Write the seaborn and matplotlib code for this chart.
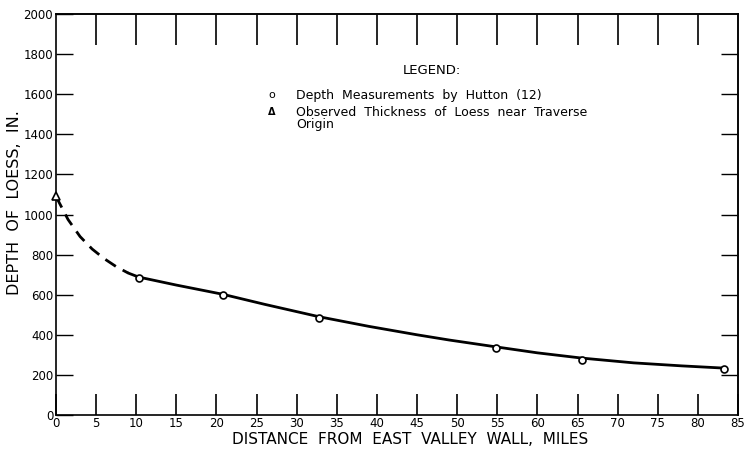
import matplotlib
matplotlib.use("Agg")
import matplotlib.pyplot as plt
import pandas as pd
import seaborn as sns

# ---- data ----
hutton_miles = [10.3, 20.8, 32.8, 54.8, 65.5, 83.2]
hutton_depth = [682, 600, 485, 335, 275, 228]

origin_miles = [0.0]
origin_depth = [1090]

# extrapolated (dashed) part of the curve
dash_miles = [0, 1.5, 3, 4.5, 6, 7.5, 9]
dash_depth = [1090, 975, 890, 828, 780, 740, 708]

# fitted (solid) part of the curve
solid_miles = [9, 10.3, 15, 20.8, 26, 32.8, 39, 45, 49, 54.8, 60, 65.5, 72, 78, 83.2]
solid_depth = [708, 688, 648, 602, 552, 490, 442, 400, 374, 340, 310, 284, 260, 245, 234]

x_ticks = list(range(0, 90, 5))
y_ticks = list(range(0, 2200, 200))

sns.set_style("white")
plt.rcParams["font.family"] = ["DejaVu Sans"]
plt.rcParams.update({"text.color": "black", "axes.labelcolor": "black",
                     "xtick.color": "black", "ytick.color": "black",
                     "xtick.bottom": True, "ytick.left": True})

fig = plt.figure(figsize=(7.46, 4.49), dpi=100)
ax = fig.add_axes([56 / 746, 1 - 415 / 449, 682 / 746, 401 / 449])

dash_df = pd.DataFrame({"x": dash_miles, "y": dash_depth})
solid_df = pd.DataFrame({"x": solid_miles, "y": solid_depth})
hut_df = pd.DataFrame({"x": hutton_miles, "y": hutton_depth})
org_df = pd.DataFrame({"x": origin_miles, "y": origin_depth})

sns.lineplot(data=dash_df, x="x", y="y", ax=ax, color="black", lw=2.0,
             estimator=None, linestyle=(0, (4.5, 2.8)), zorder=2)
sns.lineplot(data=solid_df, x="x", y="y", ax=ax, color="black", lw=2.0,
             estimator=None, zorder=2)
ax.plot(hut_df["x"], hut_df["y"], linestyle="none", marker="o", ms=5,
        mfc="white", mec="black", mew=1.2, zorder=3, clip_on=False)
ax.plot(org_df["x"], org_df["y"], linestyle="none", marker="^", ms=6,
        mfc="white", mec="black", mew=1.2, zorder=3, clip_on=False)

ax.set_xlim(0, 85)
ax.set_ylim(0, 2000)
ax.set_xticks(x_ticks)
ax.set_yticks(y_ticks)
ax.set_xticklabels([str(v) for v in x_ticks])
ax.set_yticklabels([str(v) for v in y_ticks])

for s in ax.spines.values():
    s.set_visible(True)
    s.set_linewidth(1.2)
    s.set_color("black")

ax.tick_params(axis="x", which="major", direction="in", length=15, width=1.2,
               pad=1.5, labelsize=8.5, color="black", bottom=True, top=False)
ax.tick_params(axis="y", which="major", direction="in", length=12, width=1.0,
               pad=2, labelsize=8.5, color="black", left=True, right=False)

top = ax.secondary_xaxis("top")
top.set_xticks(x_ticks[1:-1])
top.tick_params(direction="in", length=22, width=1.2, labeltop=False, top=True)
top.spines["top"].set_linewidth(1.2)
right = ax.secondary_yaxis("right")
right.set_yticks(y_ticks[1:-1])
right.tick_params(direction="in", length=12, width=1.0, labelright=False, right=True)
right.spines["right"].set_linewidth(1.2)

ax.set_xlabel("DISTANCE  FROM  EAST  VALLEY  WALL,  MILES", fontsize=11)
ax.xaxis.set_label_coords((410 - 56) / 682, -(432 - 415) / 401)
ax.set_ylabel("DEPTH  OF  LOESS,  IN.", fontsize=11.5)
ax.yaxis.set_label_coords(-(56 - 22) / 682, 0.53)

# legend block
fs = 9
ax.text(46.9, 1720, "LEGEND:", ha="center", va="center", fontsize=9.5)
ax.text(26.9, 1596, "o", ha="center", va="center", fontsize=fs - 1)
ax.text(29.9, 1596, "Depth  Measurements  by  Hutton  (12)", ha="left", va="center", fontsize=fs)
ax.text(26.9, 1511, "\u0394", ha="center", va="center", fontsize=fs - 2, fontweight="bold")
ax.text(29.9, 1511, "Observed  Thickness  of  Loess  near  Traverse", ha="left", va="center", fontsize=fs)
ax.text(29.9, 1448, "Origin", ha="left", va="center", fontsize=fs)

fig.savefig("out.png", dpi=100)
